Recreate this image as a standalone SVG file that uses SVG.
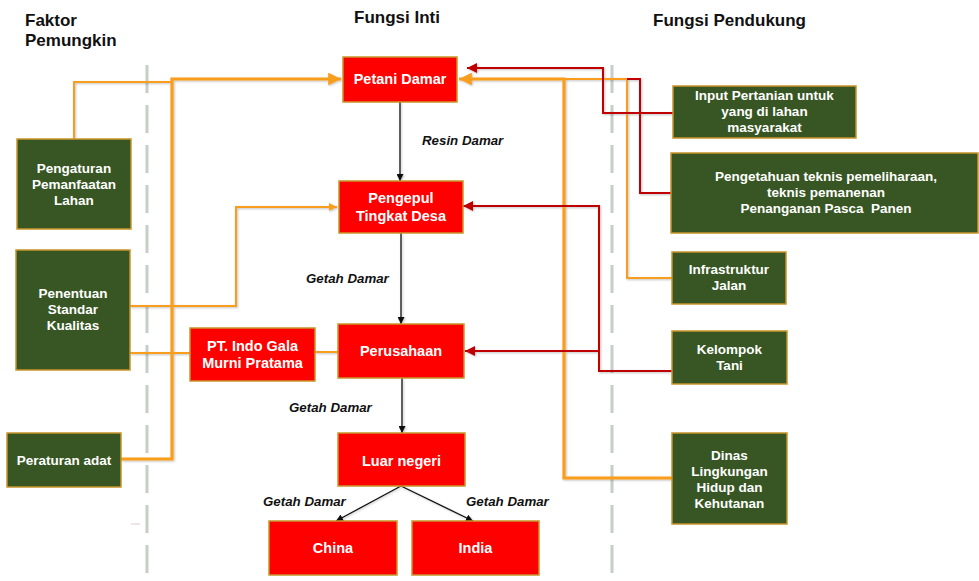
<svg xmlns="http://www.w3.org/2000/svg" width="979" height="581" viewBox="0 0 979 581">
  <style>
    .hdr { font-family: "Liberation Sans", Arial, sans-serif; font-weight: bold; font-size: 17px; fill: #111; }
    .core rect { fill: #FF0000; stroke: #C8952A; stroke-width: 1.5; }
    .core text { font-family: "Liberation Sans", Arial, sans-serif; font-weight: bold; font-size: 14.5px; fill: #fff; text-anchor: middle; }
    .side rect { fill: #375623; stroke: #C8952A; stroke-width: 1.5; }
    .side text { font-family: "Liberation Sans", Arial, sans-serif; font-weight: bold; font-size: 13.5px; fill: #fff; text-anchor: middle; }
    .lbl { font-family: "Liberation Sans", Arial, sans-serif; font-weight: bold; font-style: italic; font-size: 13.3px; fill: #111; }
    .divider { stroke: #C5CEC8; stroke-width: 3; stroke-dasharray: 28 12; fill: none; }
    .flow { stroke: #111; stroke-width: 1.3; fill: none; marker-end: url(#arrBlack); }
    .org { stroke: #F99D1C; stroke-width: 2; fill: none; }
    .orgT { stroke: #F99D1C; stroke-width: 3.2; fill: none; }
    .red { stroke: #C00000; stroke-width: 2; fill: none; }
  </style>
  <defs>
    <marker id="arrBlack" viewBox="0 0 10 10" refX="10" refY="5" markerWidth="7" markerHeight="7" markerUnits="userSpaceOnUse" orient="auto">
      <path d="M0,0 L10,5 L0,10 z" fill="#111"/>
    </marker>
    <marker id="arrOrange" viewBox="0 0 10 10" refX="10" refY="5" markerWidth="4" markerHeight="4" orient="auto">
      <path d="M0,0 L10,5 L0,10 z" fill="#F99D1C"/>
    </marker>
    <marker id="arrRed" viewBox="0 0 10 10" refX="10" refY="5" markerWidth="5" markerHeight="5" orient="auto">
      <path d="M0,0 L10,5 L0,10 z" fill="#C00000"/>
    </marker>
    <filter id="sh" x="-5%" y="-5%" width="110%" height="110%">
      <feDropShadow dx="1" dy="1" stdDeviation="0.8" flood-color="#000" flood-opacity="0.25"/>
    </filter>
  </defs>

  <rect width="979" height="581" fill="#fff"/>

  <!-- column headers -->
  <text class="hdr" x="25" y="26">Faktor</text>
  <text class="hdr" x="25" y="46">Pemungkin</text>
  <text class="hdr" x="354" y="23">Fungsi Inti</text>
  <text class="hdr" x="653" y="26">Fungsi Pendukung</text>

  <!-- column dividers -->
  <line class="divider" x1="147" y1="65" x2="147" y2="581"/>
  <line class="divider" x1="612" y1="65" x2="612" y2="581"/>
  <line x1="131" y1="524" x2="140" y2="524" stroke="#E0C8C8" stroke-width="1"/>

  <g id="connectors" filter="url(#sh)">
    <!-- enabling factors -->
    <path class="org" d="M74,139 V82 H172"/>
    <path class="orgT" d="M121,459 H172 V79 H341" marker-end="url(#arrOrange)"/>
    <path class="org" d="M130,306 H236 V207 H337" marker-end="url(#arrOrange)"/>
    <path class="org" d="M130,353 H190"/>
    <path class="org" d="M315,352 H338"/>
    <!-- supporting functions -->
    <path class="org" d="M672,278 H627 V79 H564"/>
    <path class="orgT" d="M672,478 H564 V79 H459" marker-end="url(#arrOrange)"/>
    <path class="red" d="M673,113 H603 V68 H467" marker-end="url(#arrRed)"/>
    <path class="red" d="M671,193 H640 V79 H627"/>
    <path class="red" d="M672,371 H599 V206 H463" marker-end="url(#arrRed)"/>
    <path class="red" d="M599,351 H465" marker-end="url(#arrRed)"/>
    <!-- core flow -->
    <line class="flow" x1="400" y1="102" x2="400" y2="181"/>
    <line class="flow" x1="401" y1="233" x2="401" y2="324"/>
    <line class="flow" x1="402" y1="378" x2="402" y2="433"/>
    <line class="flow" x1="401" y1="486" x2="336" y2="521"/>
    <line class="flow" x1="401" y1="486" x2="473" y2="521"/>
  </g>

  <!-- flow labels -->
  <text class="lbl" x="422" y="145">Resin Damar</text>
  <text class="lbl" x="306" y="283">Getah Damar</text>
  <text class="lbl" x="289" y="412">Getah Damar</text>
  <text class="lbl" x="263" y="506">Getah Damar</text>
  <text class="lbl" x="466" y="506">Getah Damar</text>

  <!-- core function nodes -->
  <g id="petani-damar" class="core">
    <rect x="343" y="57" width="114" height="45"/>
    <text x="400" y="84">Petani Damar</text>
  </g>
  <g id="pengepul" class="core">
    <rect x="339" y="181" width="124" height="52"/>
    <text x="401" y="203">Pengepul</text>
    <text x="401" y="221">Tingkat Desa</text>
  </g>
  <g id="perusahaan" class="core">
    <rect x="338" y="324" width="126" height="54"/>
    <text x="401" y="356">Perusahaan</text>
  </g>
  <g id="pt-indo-gala" class="core">
    <rect x="190" y="328" width="125" height="53"/>
    <text x="252.5" y="351">PT. Indo Gala</text>
    <text x="252.5" y="368">Murni Pratama</text>
  </g>
  <g id="luar-negeri" class="core">
    <rect x="338" y="433" width="127" height="53"/>
    <text x="401.5" y="466">Luar negeri</text>
  </g>
  <g id="china" class="core">
    <rect x="269" y="521" width="128" height="54"/>
    <text x="333" y="553">China</text>
  </g>
  <g id="india" class="core">
    <rect x="412" y="521" width="127" height="54"/>
    <text x="475.5" y="553">India</text>
  </g>

  <!-- enabling factor nodes -->
  <g id="pengaturan-lahan" class="side">
    <rect x="17" y="139" width="114" height="90"/>
    <text x="74" y="173">Pengaturan</text>
    <text x="74" y="189">Pemanfaatan</text>
    <text x="74" y="205">Lahan</text>
  </g>
  <g id="standar-kualitas" class="side">
    <rect x="16" y="250" width="114" height="120"/>
    <text x="73" y="298">Penentuan</text>
    <text x="73" y="314">Standar</text>
    <text x="73" y="330">Kualitas</text>
  </g>
  <g id="peraturan-adat" class="side">
    <rect x="7" y="433" width="114" height="54"/>
    <text x="64" y="465">Peraturan adat</text>
  </g>

  <!-- supporting function nodes -->
  <g id="input-pertanian" class="side">
    <rect x="673" y="86" width="183" height="52"/>
    <text x="764.5" y="100">Input Pertanian untuk</text>
    <text x="764.5" y="116">yang di lahan</text>
    <text x="764.5" y="132">masyarakat</text>
  </g>
  <g id="pengetahuan-teknis" class="side">
    <rect x="671" y="153" width="307" height="80"/>
    <text x="826" y="181">Pengetahuan teknis pemeliharaan,</text>
    <text x="826" y="197">teknis pemanenan</text>
    <text x="826" y="213" xml:space="preserve">Penanganan Pasca  Panen</text>
  </g>
  <g id="infrastruktur-jalan" class="side">
    <rect x="672" y="252" width="114" height="52"/>
    <text x="729" y="274">Infrastruktur</text>
    <text x="729" y="290">Jalan</text>
  </g>
  <g id="kelompok-tani" class="side">
    <rect x="672" y="331" width="115" height="53"/>
    <text x="729.5" y="354">Kelompok</text>
    <text x="729.5" y="370">Tani</text>
  </g>
  <g id="dinas-lhk" class="side">
    <rect x="672" y="433" width="115" height="91"/>
    <text x="729.5" y="460">Dinas</text>
    <text x="729.5" y="476">Lingkungan</text>
    <text x="729.5" y="492">Hidup dan</text>
    <text x="729.5" y="508">Kehutanan</text>
  </g>
</svg>
